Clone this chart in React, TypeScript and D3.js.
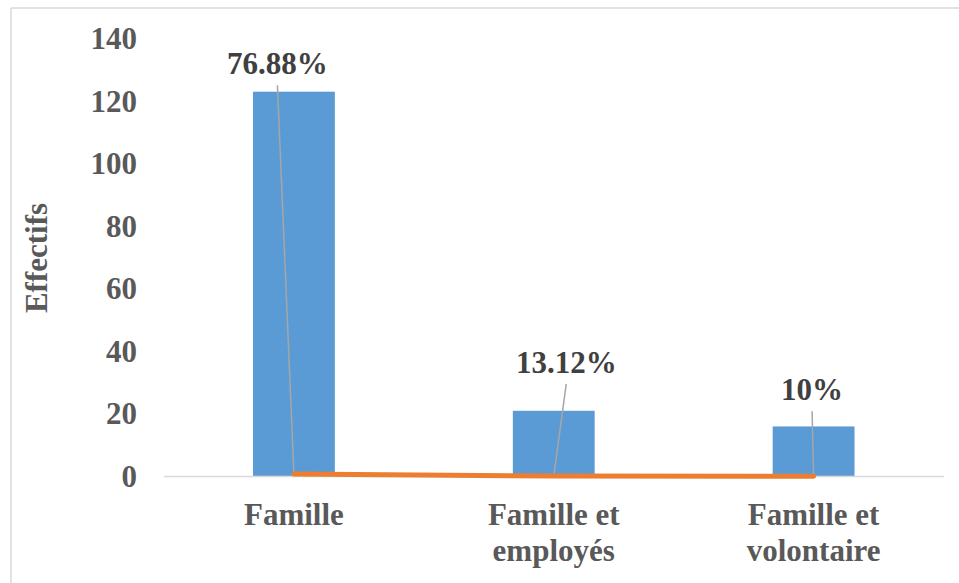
import React from 'react';
import * as d3 from 'd3';

// valeurs (n = 160)
const categories = ['Famille', 'Famille et employés', 'Famille et volontaire'];
const categoryLines = [['Famille'], ['Famille et', 'employés'], ['Famille et', 'volontaire']];
const effectifs = [123, 21, 16];
const pourcentages = [0.7688, 0.1312, 0.1];
const pctLabels = ['76.88%', '13.12%', '10%'];
const yTicks = [0, 20, 40, 60, 80, 100, 120, 140];

// labels were dragged by hand in the original, keep their offsets apart
const labelDx = [-16.5, 12.5, -1.5];
const labelY = [128.6, 33.1, 24.4];

const W = 959;
const H = 583;
const font = '"Liberation Serif", "Times New Roman", serif';

export default function App() {
  const x = d3.scaleBand<string>()
    .domain(categories)
    .range([164, 943.5])
    .paddingInner(0.685)
    .paddingOuter(0.3425);
  const y = d3.scaleLinear().domain([0, 140]).range([476.5, 38.5]);
  const cx = (c: string) => (x(c) as number) + x.bandwidth() / 2;

  const line = d3.line<number>()
    .x((_, i) => cx(categories[i]))
    .y(d => y(d));

  return (
    <svg width={W} height={H} style={{position: 'absolute', left: 0, top: 0}}>
      <rect width={W} height={H} fill="#fff"/>
      <line x1={11} y1={8} x2={W} y2={8} stroke="#d9d9d9" strokeWidth={1.5}/>
      <line x1={11} y1={8} x2={11} y2={H} stroke="#d9d9d9" strokeWidth={1.5}/>

      {yTicks.map(t => (
        <text key={t} x={137} y={y(t)} dy="0.34em" textAnchor="end"
              fontFamily={font} fontWeight="bold" fontSize={31} fill="#595959">{t}</text>
      ))}

      <text transform={`translate(47,258) rotate(-90)`} textAnchor="middle"
            fontFamily={font} fontWeight="bold" fontSize={31} fill="#595959">Effectifs</text>

      {categories.map((c, i) => (
        <rect key={c} x={x(c)} y={y(effectifs[i])} width={x.bandwidth()}
              height={y(0) - y(effectifs[i])} fill="#5b9bd5"/>
      ))}

      <line x1={164} x2={944} y1={y(0)} y2={y(0)} stroke="#d9d9d9" strokeWidth={1.5}/>

      {categories.map((c, i) => (
        <line key={c} x1={cx(c) + labelDx[i]} y1={y(labelY[i]) + 11}
              x2={cx(c)} y2={y(pourcentages[i])} stroke="#a6a6a6" strokeWidth={1.5}/>
      ))}

      <path d={line(pourcentages) || ''} fill="none" stroke="#ed7d31"
            strokeWidth={5} strokeLinecap="round" strokeLinejoin="round"/>

      {categories.map((c, i) => (
        <text key={c} x={cx(c) + labelDx[i]} y={y(labelY[i])} textAnchor="middle"
              fontFamily={font} fontWeight="bold" fontSize={31} fill="#404040">{pctLabels[i]}</text>
      ))}

      {categories.map((c, i) => (
        <text key={c} x={cx(c)} y={525} textAnchor="middle"
              fontFamily={font} fontWeight="bold" fontSize={31} fill="#595959">
          {categoryLines[i].map((l, j) => (
            <tspan key={j} x={cx(c)} dy={j === 0 ? 0 : 36}>{l}</tspan>
          ))}
        </text>
      ))}
    </svg>
  );
}
